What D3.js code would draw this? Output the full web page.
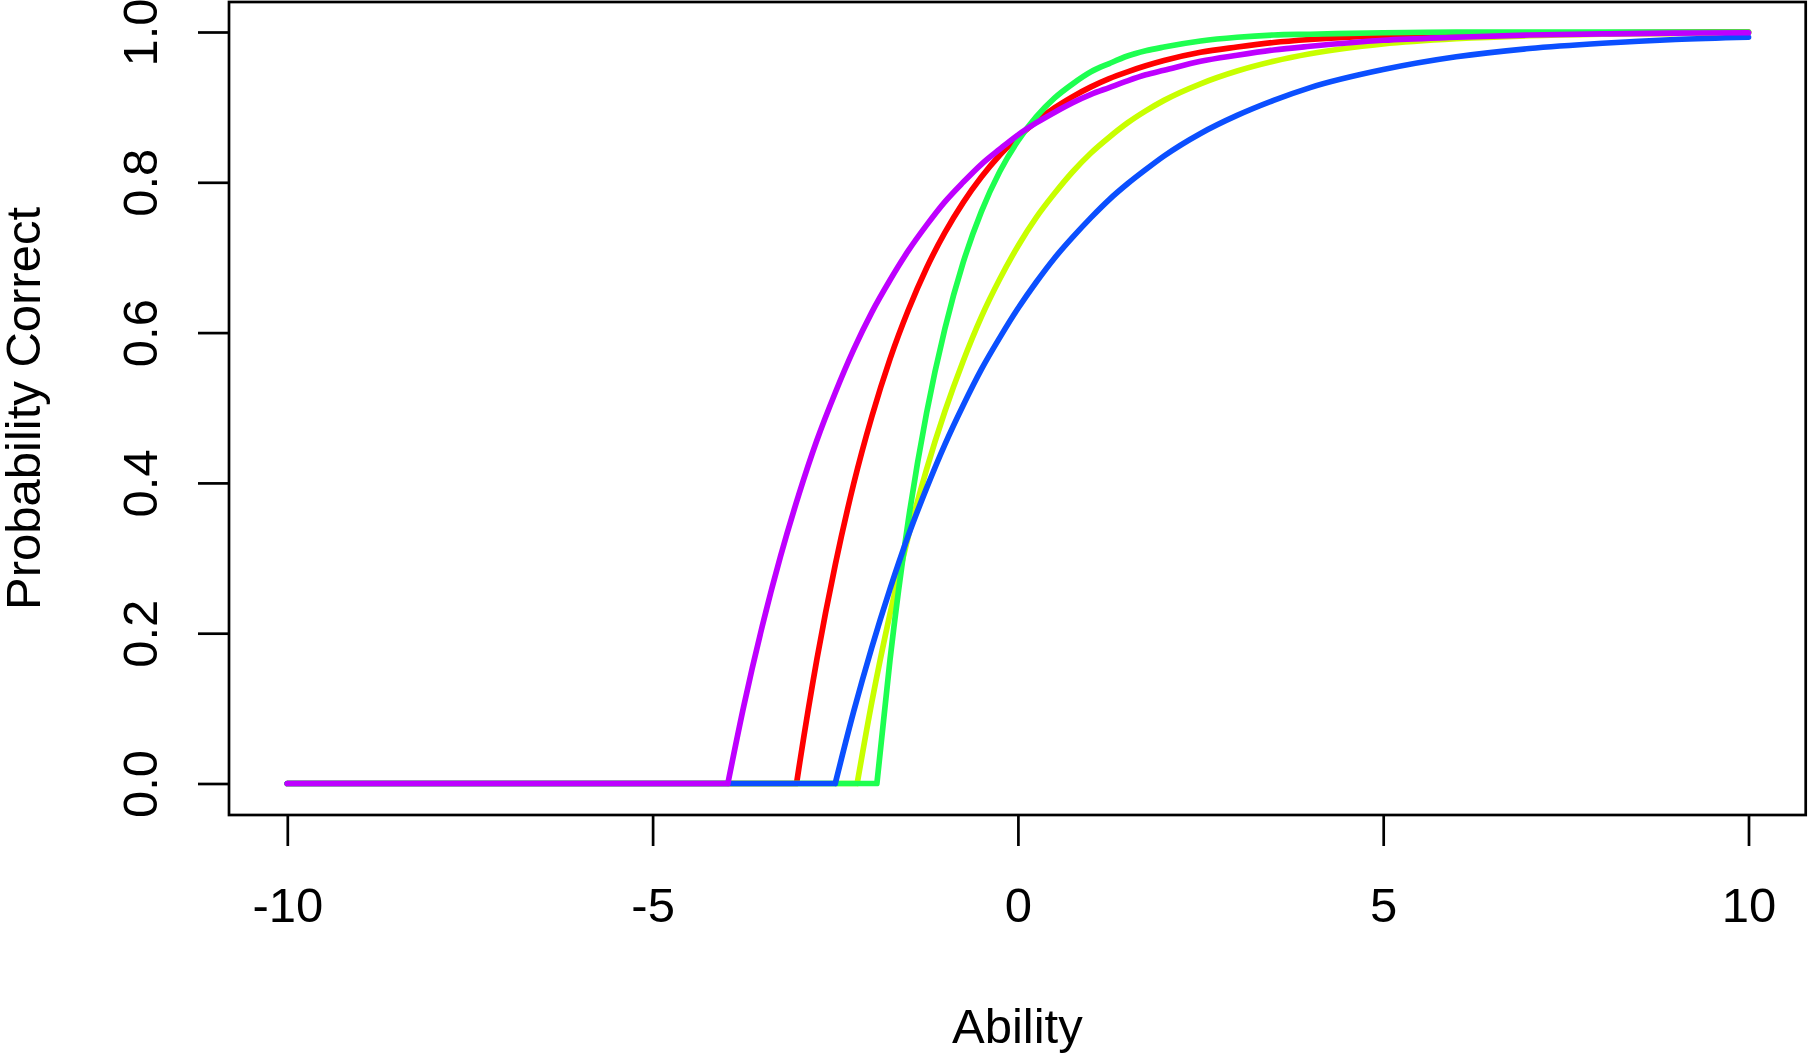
<!DOCTYPE html>
<html>
<head>
<meta charset="utf-8">
<script src="https://cdn.jsdelivr.net/npm/d3@7"></script>
<style>
  html, body { margin: 0; padding: 0; background: #ffffff; }
  svg { display: block; }
  text { font-family: "Liberation Sans", Arial, Helvetica, sans-serif; fill: #000; }
</style>
</head>
<body>
<svg id="chart" width="1809" height="1054"></svg>
<script>
// ---------------- data ----------------
const xTicks = [-10, -5, 0, 5, 10];
const yTicks = [0, 0.2, 0.4, 0.6, 0.8, 1.0];
const xLabel = "Ability";
const yLabel = "Probability Correct";

// drawing order (last drawn on top)
const seriesNames  = ["item1", "item2", "item3", "item4", "item5"];
const seriesColors = ["#FF0000", "#C8FF00", "#1EFF50", "#0B4FFF", "#BE00FF"];

// ability where each curve is still 0 on its left side
const abilityMin = -10;
const startAbility = [-3.03, -2.20, -1.93, -2.50, -3.97];

// common ability grid for the rising part
const abilityGrid = [-3.75, -3.5, -3.25, -3, -2.75, -2.5, -2.25, -2, -1.75, -1.5, -1.25, -1,
  -0.75, -0.5, -0.25, 0, 0.25, 0.5, 0.75, 1, 1.25, 1.5, 1.75, 2, 2.5, 3, 3.5, 4, 5, 6, 7, 8, 9, 10];

// probability correct on the grid (null = still at the zero floor)
const probRed = [null, null, null, 0.019, 0.166, 0.291, 0.398, 0.488, 0.565, 0.630, 0.686, 0.733,
  0.773, 0.807, 0.836, 0.860, 0.881, 0.899, 0.914, 0.927, 0.938, 0.947, 0.955, 0.962, 0.973, 0.980, 0.986, 0.990, 0.995, 0.997, 0.9985, 0.999, 0.9996, 0.9998];
const probYellow = [null, null, null, null, null, null, null, 0.108, 0.226, 0.329, 0.418, 0.495,
  0.562, 0.621, 0.671, 0.715, 0.753, 0.785, 0.814, 0.839, 0.860, 0.879, 0.895, 0.909, 0.931, 0.948, 0.961, 0.971, 0.984, 0.991, 0.995, 0.997, 0.998, 0.999];
const probGreen = [null, null, null, null, null, null, null, null, 0.165, 0.350, 0.493, 0.605,
  0.693, 0.761, 0.814, 0.855, 0.887, 0.912, 0.931, 0.947, 0.958, 0.968, 0.975, 0.980, 0.988, 0.993, 0.996, 0.997, 0.999, 1.0, 1.0, 1.0, 1.0, 1.0];
const probBlue = [null, null, null, null, null, null, 0.095, 0.181, 0.259, 0.330, 0.393, 0.451,
  0.503, 0.551, 0.593, 0.632, 0.667, 0.699, 0.727, 0.753, 0.777, 0.798, 0.817, 0.835, 0.865, 0.889, 0.909, 0.926, 0.950, 0.967, 0.978, 0.985, 0.990, 0.993];
const probPurple = [0.104, 0.209, 0.302, 0.384, 0.457, 0.520, 0.577, 0.627, 0.670, 0.709, 0.743, 0.774,
  0.800, 0.824, 0.844, 0.863, 0.879, 0.893, 0.906, 0.917, 0.926, 0.935, 0.943, 0.949, 0.961, 0.969, 0.976, 0.981, 0.989, 0.993, 0.996, 0.9975, 0.9985, 0.999];

const seriesValues = [probRed, probYellow, probGreen, probBlue, probPurple];

// ---------------- layout ----------------
const W = 1809, H = 1054;
const box = { left: 229, right: 1805.7, top: 2, bottom: 815 };
const fontSize = 49;
const axisStroke = 2.7;

const svg = d3.select("#chart");
svg.append("rect").attr("x", 0).attr("y", 0).attr("width", W).attr("height", H).attr("fill", "#fff");

const x = d3.scaleLinear().domain([-10, 10]).range([287.3, 1748.5]);
const y = d3.scaleLinear().domain([0, 1]).range([783.5, 32]);

// ---------------- curves ----------------
const flatLine = d3.line().x(d => x(d[0])).y(d => y(d[1]));
const riseLine = d3.line().x(d => x(d[0])).y(d => y(d[1])).curve(d3.curveMonotoneX);

const gCurves = svg.append("g");
seriesNames.forEach((name, i) => {
  const s = startAbility[i];
  const flat = [[abilityMin, 0], [s, 0]];
  const rise = [[s, 0]].concat(
    abilityGrid.map((a, j) => [a, seriesValues[i][j]]).filter(p => p[1] !== null && p[0] > s)
  );
  gCurves.append("path")
    .attr("class", "curve " + name)
    .attr("d", flatLine(flat) + riseLine(rise))
    .attr("fill", "none")
    .attr("stroke", seriesColors[i])
    .attr("stroke-width", 5.7)
    .attr("stroke-linecap", "round")
    .attr("stroke-linejoin", "round");
});

// ---------------- axes ----------------
const xAxis = d3.axisBottom(x).tickValues(xTicks).tickSize(31).tickSizeOuter(0)
  .tickFormat(d => String(d));
const gx = svg.append("g").attr("transform", `translate(0,${box.bottom})`).call(xAxis);
gx.select(".domain").remove();
gx.selectAll(".tick line").attr("stroke", "#000").attr("stroke-width", axisStroke);
gx.selectAll(".tick text")
  .attr("y", 922 - box.bottom).attr("dy", null)
  .attr("font-size", fontSize)
  .attr("font-family", "'Liberation Sans', Arial, Helvetica, sans-serif")
  .attr("fill", "#000");

const yAxis = d3.axisLeft(y).tickValues(yTicks).tickSize(31).tickSizeOuter(0)
  .tickFormat(d3.format(".1f"));
const gy = svg.append("g").attr("transform", `translate(${box.left},0)`).call(yAxis);
gy.select(".domain").remove();
gy.selectAll(".tick line").attr("stroke", "#000").attr("stroke-width", axisStroke);
gy.selectAll(".tick text")
  .attr("x", null).attr("dy", null)
  .attr("transform", `translate(${157 - box.left},0) rotate(-90)`)
  .attr("text-anchor", "middle")
  .attr("font-size", fontSize)
  .attr("font-family", "'Liberation Sans', Arial, Helvetica, sans-serif")
  .attr("fill", "#000");

// ---------------- box ----------------
svg.append("rect")
  .attr("x", box.left).attr("y", box.top)
  .attr("width", box.right - box.left).attr("height", box.bottom - box.top)
  .attr("fill", "none").attr("stroke", "#000").attr("stroke-width", axisStroke);

// ---------------- axis titles ----------------
svg.append("text")
  .attr("x", (box.left + box.right) / 2).attr("y", 1043)
  .attr("text-anchor", "middle").attr("font-size", fontSize)
  .text(xLabel);

svg.append("text")
  .attr("transform", `translate(40,${(box.top + box.bottom) / 2}) rotate(-90)`)
  .attr("text-anchor", "middle").attr("font-size", fontSize)
  .text(yLabel);
</script>
</body>
</html>
